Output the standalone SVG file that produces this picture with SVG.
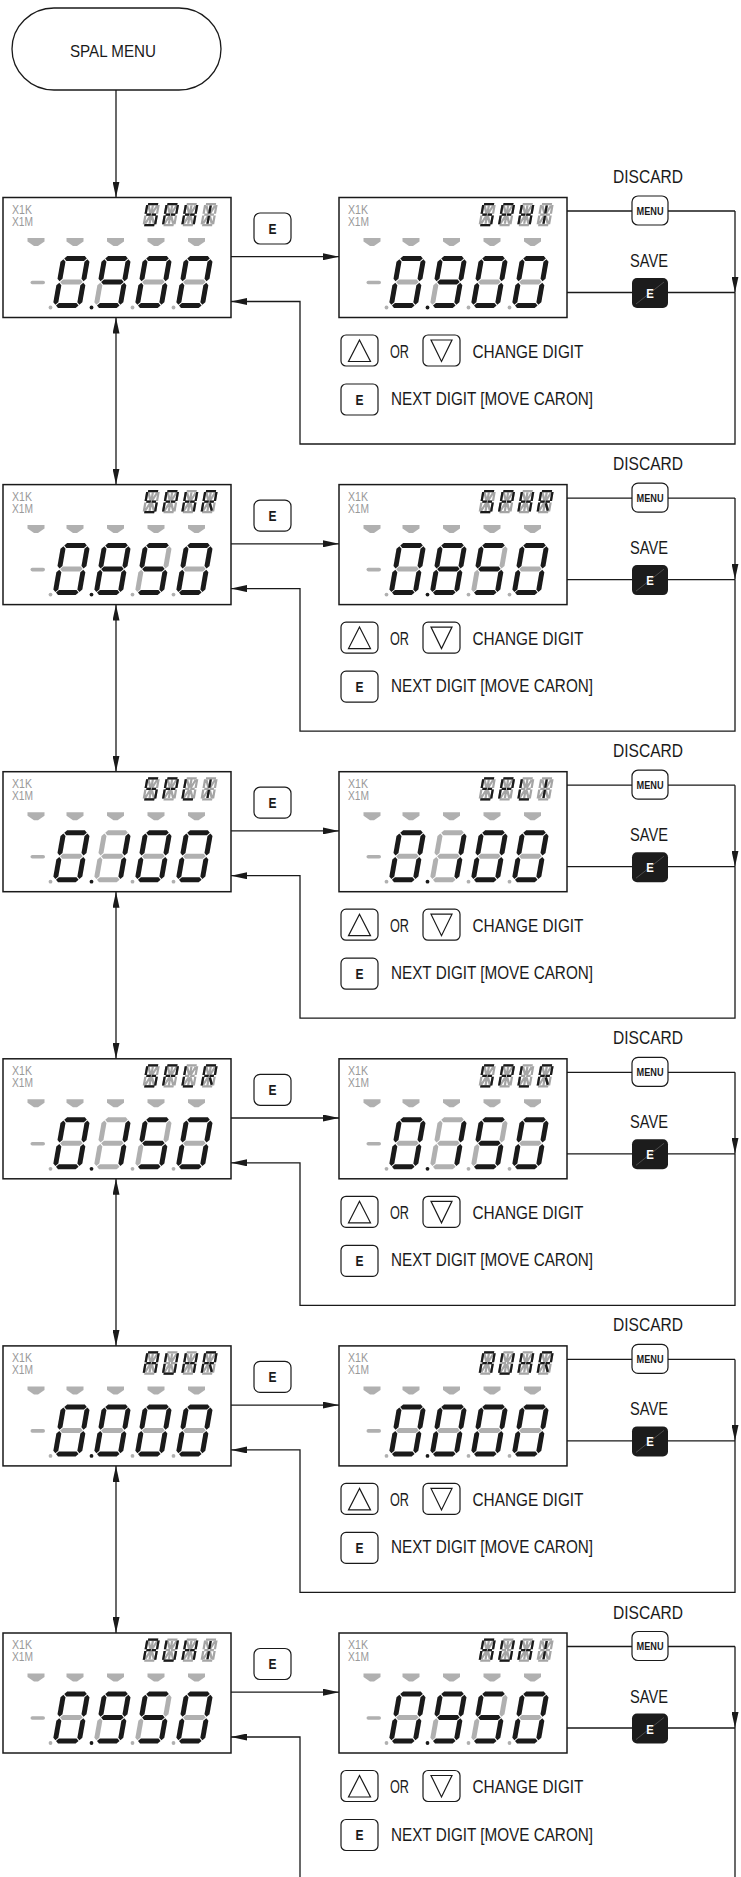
<svg xmlns="http://www.w3.org/2000/svg" width="741" height="1877" viewBox="0 0 741 1877">
<style>
.f{font-family:"Liberation Sans",Arial,sans-serif;fill:#1a1a1a}
.lb{font-size:18px}
.b{font-weight:bold}
.bt{fill:#fff;stroke:#1a1a1a;stroke-width:1.2}
.tri{fill:none;stroke:#1a1a1a;stroke-width:1.2;stroke-linejoin:miter}
.cn{fill:none;stroke:#1a1a1a;stroke-width:1.3}
.x{font-family:"Liberation Sans",Arial,sans-serif;font-size:12.5px;fill:#999}
.off{fill:#b0b0b0}
.on{fill:#1a1a1a}
.ag{fill:none;stroke:#a5a5a5;stroke-width:2.1}
.ao{fill:none;stroke:#1a1a1a;stroke-width:2.1}
</style>
<defs>
<marker id="ah" viewBox="0 0 16 7" refX="16" refY="3.5" markerWidth="16" markerHeight="7" markerUnits="userSpaceOnUse" orient="auto-start-reverse"><path d="M0,0L16,3.5L0,7z" fill="#1a1a1a"/></marker>
<polygon id="sa" points="3.2,2.5 5.7,0 23.3,0 25.8,2.5 23.3,5 5.7,5"/>
<polygon id="sg" points="3.2,26 5.7,23.5 23.3,23.5 25.8,26 23.3,28.5 5.7,28.5"/>
<polygon id="sd" points="3.2,49.5 5.7,47 23.3,47 25.8,49.5 23.3,52 5.7,52"/>
<polygon id="sf" points="2.5,3.2 5,5.7 5,22.8 2.5,25.3 0,22.8 0,5.7"/>
<polygon id="se" points="2.5,26.7 5,29.2 5,46.3 2.5,48.8 0,46.3 0,29.2"/>
<polygon id="sb" points="26.5,3.2 29,5.7 29,22.8 26.5,25.3 24,22.8 24,5.7"/>
<polygon id="sc" points="26.5,26.7 29,29.2 29,46.3 26.5,48.8 24,46.3 24,29.2"/>
<g id="d0"><use href="#sa" class="on"/><use href="#sb" class="on"/><use href="#sc" class="on"/><use href="#sd" class="on"/><use href="#se" class="on"/><use href="#sf" class="on"/><use href="#sg" class="off"/></g>
<g id="d1"><use href="#sa" class="off"/><use href="#sb" class="on"/><use href="#sc" class="on"/><use href="#sd" class="off"/><use href="#se" class="off"/><use href="#sf" class="off"/><use href="#sg" class="off"/></g>
<g id="d5"><use href="#sa" class="on"/><use href="#sb" class="off"/><use href="#sc" class="on"/><use href="#sd" class="on"/><use href="#se" class="off"/><use href="#sf" class="on"/><use href="#sg" class="on"/></g>
<g id="d8"><use href="#sa" class="on"/><use href="#sb" class="on"/><use href="#sc" class="on"/><use href="#sd" class="on"/><use href="#se" class="on"/><use href="#sf" class="on"/><use href="#sg" class="on"/></g>
<g id="d9"><use href="#sa" class="on"/><use href="#sb" class="on"/><use href="#sc" class="on"/><use href="#sd" class="on"/><use href="#se" class="off"/><use href="#sf" class="on"/><use href="#sg" class="on"/></g>
<path id="agp" d="M1.6,1H10.9M1.6,20.5H10.9M1,1.8V10M1,11.5V19.7M11.5,1.8V10M11.5,11.5V19.7M1.8,10.75H5.9M6.6,10.75H10.7M6.25,2.2V9.8M6.25,11.7V19.3M2.3,2.5L5.3,9.3M10.2,2.5L7.2,9.3M5.3,12.2L2.3,19M7.2,12.2L10.2,19"/>
<g id="aS"><use href="#agp" class="ag"/><path class="ao" d="M1.6,1H10.9M1,1.8V10M1.8,10.75H5.9M6.6,10.75H10.7M11.5,11.5V19.7M1.6,20.5H10.9"/></g>
<g id="aP"><use href="#agp" class="ag"/><path class="ao" d="M1.6,1H10.9M11.5,1.8V10M1,1.8V10M1,11.5V19.7M1.8,10.75H5.9M6.6,10.75H10.7"/></g>
<g id="aH"><use href="#agp" class="ag"/><path class="ao" d="M1,1.8V10M1,11.5V19.7M11.5,1.8V10M11.5,11.5V19.7M1.8,10.75H5.9M6.6,10.75H10.7"/></g>
<g id="aI"><use href="#agp" class="ag"/><path class="ao" d="M6.25,2.2V9.8M6.25,11.7V19.3"/></g>
<g id="aR"><use href="#agp" class="ag"/><path class="ao" d="M1.6,1H10.9M11.5,1.8V10M1,1.8V10M1,11.5V19.7M1.8,10.75H5.9M6.6,10.75H10.7M7.2,12.2L10.2,19"/></g>
<g id="aL"><use href="#agp" class="ag"/><path class="ao" d="M1,1.8V10M1,11.5V19.7M1.6,20.5H10.9"/></g>
<g id="aA"><use href="#agp" class="ag"/><path class="ao" d="M1.6,1H10.9M11.5,1.8V10M11.5,11.5V19.7M1,1.8V10M1,11.5V19.7M1.8,10.75H5.9M6.6,10.75H10.7"/></g>
<g id="aU"><use href="#agp" class="ag"/><path class="ao" d="M11.5,1.8V10M11.5,11.5V19.7M1.6,20.5H10.9M1,1.8V10M1,11.5V19.7"/></g>
<path id="cr" d="M-8.5,0H8.5V3.5L2,8H-2L-8.5,3.5Z"/>
<g id="lcd">
<rect x="0" y="0" width="228" height="120" fill="#fff" stroke="#1a1a1a" stroke-width="1.5"/>
<g class="off">
<use href="#cr" x="33" y="40.5"/><use href="#cr" x="72" y="40.5"/><use href="#cr" x="112.5" y="40.5"/><use href="#cr" x="153" y="40.5"/><use href="#cr" x="193.5" y="40.5"/>
<rect x="27.5" y="83.2" width="14.5" height="3.6" rx="1.8"/>
<circle cx="47.5" cy="110" r="1.9"/><circle cx="129.5" cy="110" r="1.9"/><circle cx="170.5" cy="110" r="1.9"/>
</g>
<circle class="on" cx="88.5" cy="110" r="1.9"/>
</g>
<g id="c1"><use href="#aS" transform="translate(143.5,5.5) skewX(-10) scale(1.08,1.08)"/><use href="#aP" transform="translate(162.8,5.5) skewX(-10) scale(1.08,1.08)"/><use href="#aH" transform="translate(182.1,5.5) skewX(-10) scale(1.08,1.08)"/><use href="#aI" transform="translate(201.4,5.5) skewX(-10) scale(1.08,1.08)"/><use href="#d0" transform="translate(58.5,58.5) skewX(-10)"/><use href="#d9" transform="translate(99.5,58.5) skewX(-10)"/><use href="#d0" transform="translate(140.5,58.5) skewX(-10)"/><use href="#d0" transform="translate(181.5,58.5) skewX(-10)"/></g>
<g id="c2"><use href="#aS" transform="translate(143.5,5.5) skewX(-10) scale(1.08,1.08)"/><use href="#aP" transform="translate(162.8,5.5) skewX(-10) scale(1.08,1.08)"/><use href="#aH" transform="translate(182.1,5.5) skewX(-10) scale(1.08,1.08)"/><use href="#aR" transform="translate(201.4,5.5) skewX(-10) scale(1.08,1.08)"/><use href="#d0" transform="translate(58.5,58.5) skewX(-10)"/><use href="#d8" transform="translate(99.5,58.5) skewX(-10)"/><use href="#d5" transform="translate(140.5,58.5) skewX(-10)"/><use href="#d0" transform="translate(181.5,58.5) skewX(-10)"/></g>
<g id="c3"><use href="#aS" transform="translate(143.5,5.5) skewX(-10) scale(1.08,1.08)"/><use href="#aP" transform="translate(162.8,5.5) skewX(-10) scale(1.08,1.08)"/><use href="#aL" transform="translate(182.1,5.5) skewX(-10) scale(1.08,1.08)"/><use href="#aI" transform="translate(201.4,5.5) skewX(-10) scale(1.08,1.08)"/><use href="#d0" transform="translate(58.5,58.5) skewX(-10)"/><use href="#d1" transform="translate(99.5,58.5) skewX(-10)"/><use href="#d0" transform="translate(140.5,58.5) skewX(-10)"/><use href="#d0" transform="translate(181.5,58.5) skewX(-10)"/></g>
<g id="c4"><use href="#aS" transform="translate(143.5,5.5) skewX(-10) scale(1.08,1.08)"/><use href="#aP" transform="translate(162.8,5.5) skewX(-10) scale(1.08,1.08)"/><use href="#aL" transform="translate(182.1,5.5) skewX(-10) scale(1.08,1.08)"/><use href="#aR" transform="translate(201.4,5.5) skewX(-10) scale(1.08,1.08)"/><use href="#d0" transform="translate(58.5,58.5) skewX(-10)"/><use href="#d1" transform="translate(99.5,58.5) skewX(-10)"/><use href="#d5" transform="translate(140.5,58.5) skewX(-10)"/><use href="#d0" transform="translate(181.5,58.5) skewX(-10)"/></g>
<g id="c5"><use href="#aA" transform="translate(143.5,5.5) skewX(-10) scale(1.08,1.08)"/><use href="#aU" transform="translate(162.8,5.5) skewX(-10) scale(1.08,1.08)"/><use href="#aH" transform="translate(182.1,5.5) skewX(-10) scale(1.08,1.08)"/><use href="#aR" transform="translate(201.4,5.5) skewX(-10) scale(1.08,1.08)"/><use href="#d0" transform="translate(58.5,58.5) skewX(-10)"/><use href="#d0" transform="translate(99.5,58.5) skewX(-10)"/><use href="#d0" transform="translate(140.5,58.5) skewX(-10)"/><use href="#d0" transform="translate(181.5,58.5) skewX(-10)"/></g>
<g id="c6"><use href="#aA" transform="translate(143.5,5.5) skewX(-10) scale(1.08,1.08)"/><use href="#aU" transform="translate(162.8,5.5) skewX(-10) scale(1.08,1.08)"/><use href="#aH" transform="translate(182.1,5.5) skewX(-10) scale(1.08,1.08)"/><use href="#aI" transform="translate(201.4,5.5) skewX(-10) scale(1.08,1.08)"/><use href="#d0" transform="translate(58.5,58.5) skewX(-10)"/><use href="#d9" transform="translate(99.5,58.5) skewX(-10)"/><use href="#d5" transform="translate(140.5,58.5) skewX(-10)"/><use href="#d0" transform="translate(181.5,58.5) skewX(-10)"/></g>
</defs>
<rect width="741" height="1877" fill="#fff"/>

<g id="connectors" class="cn">
<path d="M116,90V197.5" marker-end="url(#ah)"/>
<path d="M116,317.5V484.6" marker-start="url(#ah)" marker-end="url(#ah)"/>
<path d="M116,604.6V771.7" marker-start="url(#ah)" marker-end="url(#ah)"/>
<path d="M116,891.7V1058.8" marker-start="url(#ah)" marker-end="url(#ah)"/>
<path d="M116,1178.8V1345.9" marker-start="url(#ah)" marker-end="url(#ah)"/>
<path d="M116,1465.9V1633" marker-start="url(#ah)" marker-end="url(#ah)"/>
<g>
<path d="M231,256.7H339" marker-end="url(#ah)"/>
<path d="M567,211H632M668,211H735"/><path d="M735,211V292.5" marker-end="url(#ah)"/>
<path d="M567,292.5H632M668,292.5H735"/>
<path d="M735,292.5V444H300V301.5H231" marker-end="url(#ah)"/>
</g>
<g transform="translate(0,287.1)">
<path d="M231,256.7H339" marker-end="url(#ah)"/>
<path d="M567,211H632M668,211H735"/><path d="M735,211V292.5" marker-end="url(#ah)"/>
<path d="M567,292.5H632M668,292.5H735"/>
<path d="M735,292.5V444H300V301.5H231" marker-end="url(#ah)"/>
</g>
<g transform="translate(0,574.2)">
<path d="M231,256.7H339" marker-end="url(#ah)"/>
<path d="M567,211H632M668,211H735"/><path d="M735,211V292.5" marker-end="url(#ah)"/>
<path d="M567,292.5H632M668,292.5H735"/>
<path d="M735,292.5V444H300V301.5H231" marker-end="url(#ah)"/>
</g>
<g transform="translate(0,861.3)">
<path d="M231,256.7H339" marker-end="url(#ah)"/>
<path d="M567,211H632M668,211H735"/><path d="M735,211V292.5" marker-end="url(#ah)"/>
<path d="M567,292.5H632M668,292.5H735"/>
<path d="M735,292.5V444H300V301.5H231" marker-end="url(#ah)"/>
</g>
<g transform="translate(0,1148.4)">
<path d="M231,256.7H339" marker-end="url(#ah)"/>
<path d="M567,211H632M668,211H735"/><path d="M735,211V292.5" marker-end="url(#ah)"/>
<path d="M567,292.5H632M668,292.5H735"/>
<path d="M735,292.5V444H300V301.5H231" marker-end="url(#ah)"/>
</g>
<g transform="translate(0,1435.5)">
<path d="M231,256.7H339" marker-end="url(#ah)"/>
<path d="M567,211H632M668,211H735"/><path d="M735,211V292.5" marker-end="url(#ah)"/>
<path d="M567,292.5H632M668,292.5H735"/>
<path d="M735,292.5V442"/>
<path d="M300,442V301.5H231" marker-end="url(#ah)"/>
</g>
</g>

<g id="spal-menu"><rect x="12" y="8" width="209" height="82" rx="42" ry="41" fill="#fff" stroke="#1a1a1a" stroke-width="1.3"/><text class="f" x="70" y="56.5" font-size="16.5" textLength="86" lengthAdjust="spacingAndGlyphs">SPAL MENU</text></g>

<g id="lcd1-left" transform="translate(3,197.5)"><use href="#lcd"/><use href="#c1"/><text class="x" x="9" y="16" textLength="20" lengthAdjust="spacingAndGlyphs">X1K</text><text class="x" x="9" y="28" textLength="21" lengthAdjust="spacingAndGlyphs">X1M</text></g>
<g id="lcd1-right" transform="translate(339,197.5)"><use href="#lcd"/><use href="#c1"/><text class="x" x="9" y="16" textLength="20" lengthAdjust="spacingAndGlyphs">X1K</text><text class="x" x="9" y="28" textLength="21" lengthAdjust="spacingAndGlyphs">X1M</text></g>
<g id="lcd2-left" transform="translate(3,484.6)"><use href="#lcd"/><use href="#c2"/><text class="x" x="9" y="16" textLength="20" lengthAdjust="spacingAndGlyphs">X1K</text><text class="x" x="9" y="28" textLength="21" lengthAdjust="spacingAndGlyphs">X1M</text></g>
<g id="lcd2-right" transform="translate(339,484.6)"><use href="#lcd"/><use href="#c2"/><text class="x" x="9" y="16" textLength="20" lengthAdjust="spacingAndGlyphs">X1K</text><text class="x" x="9" y="28" textLength="21" lengthAdjust="spacingAndGlyphs">X1M</text></g>
<g id="lcd3-left" transform="translate(3,771.7)"><use href="#lcd"/><use href="#c3"/><text class="x" x="9" y="16" textLength="20" lengthAdjust="spacingAndGlyphs">X1K</text><text class="x" x="9" y="28" textLength="21" lengthAdjust="spacingAndGlyphs">X1M</text></g>
<g id="lcd3-right" transform="translate(339,771.7)"><use href="#lcd"/><use href="#c3"/><text class="x" x="9" y="16" textLength="20" lengthAdjust="spacingAndGlyphs">X1K</text><text class="x" x="9" y="28" textLength="21" lengthAdjust="spacingAndGlyphs">X1M</text></g>
<g id="lcd4-left" transform="translate(3,1058.8)"><use href="#lcd"/><use href="#c4"/><text class="x" x="9" y="16" textLength="20" lengthAdjust="spacingAndGlyphs">X1K</text><text class="x" x="9" y="28" textLength="21" lengthAdjust="spacingAndGlyphs">X1M</text></g>
<g id="lcd4-right" transform="translate(339,1058.8)"><use href="#lcd"/><use href="#c4"/><text class="x" x="9" y="16" textLength="20" lengthAdjust="spacingAndGlyphs">X1K</text><text class="x" x="9" y="28" textLength="21" lengthAdjust="spacingAndGlyphs">X1M</text></g>
<g id="lcd5-left" transform="translate(3,1345.9)"><use href="#lcd"/><use href="#c5"/><text class="x" x="9" y="16" textLength="20" lengthAdjust="spacingAndGlyphs">X1K</text><text class="x" x="9" y="28" textLength="21" lengthAdjust="spacingAndGlyphs">X1M</text></g>
<g id="lcd5-right" transform="translate(339,1345.9)"><use href="#lcd"/><use href="#c5"/><text class="x" x="9" y="16" textLength="20" lengthAdjust="spacingAndGlyphs">X1K</text><text class="x" x="9" y="28" textLength="21" lengthAdjust="spacingAndGlyphs">X1M</text></g>
<g id="lcd6-left" transform="translate(3,1633)"><use href="#lcd"/><use href="#c6"/><text class="x" x="9" y="16" textLength="20" lengthAdjust="spacingAndGlyphs">X1K</text><text class="x" x="9" y="28" textLength="21" lengthAdjust="spacingAndGlyphs">X1M</text></g>
<g id="lcd6-right" transform="translate(339,1633)"><use href="#lcd"/><use href="#c6"/><text class="x" x="9" y="16" textLength="20" lengthAdjust="spacingAndGlyphs">X1K</text><text class="x" x="9" y="28" textLength="21" lengthAdjust="spacingAndGlyphs">X1M</text></g>

<g id="row1-controls">
<g id="e-btn-1"><rect class="bt" x="254" y="213" width="37" height="31" rx="6"/><text class="f b" x="268.5" y="233.8" font-size="14.5" textLength="8" lengthAdjust="spacingAndGlyphs">E</text></g>
<g id="discard-1"><text class="f lb" x="613" y="183" textLength="70" lengthAdjust="spacingAndGlyphs">DISCARD</text><rect class="bt" x="632" y="196" width="36" height="29" rx="6"/><text class="f b" x="636.5" y="214.5" font-size="11" textLength="27" lengthAdjust="spacingAndGlyphs">MENU</text></g>
<g id="save-1"><text class="f lb" x="630" y="267" textLength="38" lengthAdjust="spacingAndGlyphs">SAVE</text><rect x="632" y="278" width="36" height="30" rx="5" fill="#1c1c1c"/><line x1="636" y1="304" x2="664" y2="282" stroke="#6a6a6a" stroke-width="0.6"/><text class="b" x="646.2" y="298" font-family="Liberation Sans,Arial,sans-serif" font-size="13.5" fill="#fff" textLength="7.6" lengthAdjust="spacingAndGlyphs">E</text></g>
<g id="change-1"><rect class="bt" x="341" y="335" width="37" height="31" rx="5"/><polygon class="tri" points="359.5,340 348.5,361.5 370.5,361.5"/><text class="f lb" x="390" y="357.5" textLength="19" lengthAdjust="spacingAndGlyphs">OR</text><rect class="bt" x="423" y="335" width="37" height="31" rx="5"/><polygon class="tri" points="431,340 452,340 441.5,361.5"/><text class="f lb" x="472.5" y="357.5" textLength="111" lengthAdjust="spacingAndGlyphs">CHANGE DIGIT</text></g>
<g id="next-1"><rect class="bt" x="341" y="384" width="37" height="31" rx="5"/><text class="f b" x="355.5" y="404.8" font-size="14.5" textLength="8" lengthAdjust="spacingAndGlyphs">E</text><text class="f lb" x="391" y="405" textLength="202" lengthAdjust="spacingAndGlyphs">NEXT DIGIT [MOVE CARON]</text></g>
</g>
<g id="row2-controls" transform="translate(0,287.1)">
<g id="e-btn-2"><rect class="bt" x="254" y="213" width="37" height="31" rx="6"/><text class="f b" x="268.5" y="233.8" font-size="14.5" textLength="8" lengthAdjust="spacingAndGlyphs">E</text></g>
<g id="discard-2"><text class="f lb" x="613" y="183" textLength="70" lengthAdjust="spacingAndGlyphs">DISCARD</text><rect class="bt" x="632" y="196" width="36" height="29" rx="6"/><text class="f b" x="636.5" y="214.5" font-size="11" textLength="27" lengthAdjust="spacingAndGlyphs">MENU</text></g>
<g id="save-2"><text class="f lb" x="630" y="267" textLength="38" lengthAdjust="spacingAndGlyphs">SAVE</text><rect x="632" y="278" width="36" height="30" rx="5" fill="#1c1c1c"/><line x1="636" y1="304" x2="664" y2="282" stroke="#6a6a6a" stroke-width="0.6"/><text class="b" x="646.2" y="298" font-family="Liberation Sans,Arial,sans-serif" font-size="13.5" fill="#fff" textLength="7.6" lengthAdjust="spacingAndGlyphs">E</text></g>
<g id="change-2"><rect class="bt" x="341" y="335" width="37" height="31" rx="5"/><polygon class="tri" points="359.5,340 348.5,361.5 370.5,361.5"/><text class="f lb" x="390" y="357.5" textLength="19" lengthAdjust="spacingAndGlyphs">OR</text><rect class="bt" x="423" y="335" width="37" height="31" rx="5"/><polygon class="tri" points="431,340 452,340 441.5,361.5"/><text class="f lb" x="472.5" y="357.5" textLength="111" lengthAdjust="spacingAndGlyphs">CHANGE DIGIT</text></g>
<g id="next-2"><rect class="bt" x="341" y="384" width="37" height="31" rx="5"/><text class="f b" x="355.5" y="404.8" font-size="14.5" textLength="8" lengthAdjust="spacingAndGlyphs">E</text><text class="f lb" x="391" y="405" textLength="202" lengthAdjust="spacingAndGlyphs">NEXT DIGIT [MOVE CARON]</text></g>
</g>
<g id="row3-controls" transform="translate(0,574.2)">
<g id="e-btn-3"><rect class="bt" x="254" y="213" width="37" height="31" rx="6"/><text class="f b" x="268.5" y="233.8" font-size="14.5" textLength="8" lengthAdjust="spacingAndGlyphs">E</text></g>
<g id="discard-3"><text class="f lb" x="613" y="183" textLength="70" lengthAdjust="spacingAndGlyphs">DISCARD</text><rect class="bt" x="632" y="196" width="36" height="29" rx="6"/><text class="f b" x="636.5" y="214.5" font-size="11" textLength="27" lengthAdjust="spacingAndGlyphs">MENU</text></g>
<g id="save-3"><text class="f lb" x="630" y="267" textLength="38" lengthAdjust="spacingAndGlyphs">SAVE</text><rect x="632" y="278" width="36" height="30" rx="5" fill="#1c1c1c"/><line x1="636" y1="304" x2="664" y2="282" stroke="#6a6a6a" stroke-width="0.6"/><text class="b" x="646.2" y="298" font-family="Liberation Sans,Arial,sans-serif" font-size="13.5" fill="#fff" textLength="7.6" lengthAdjust="spacingAndGlyphs">E</text></g>
<g id="change-3"><rect class="bt" x="341" y="335" width="37" height="31" rx="5"/><polygon class="tri" points="359.5,340 348.5,361.5 370.5,361.5"/><text class="f lb" x="390" y="357.5" textLength="19" lengthAdjust="spacingAndGlyphs">OR</text><rect class="bt" x="423" y="335" width="37" height="31" rx="5"/><polygon class="tri" points="431,340 452,340 441.5,361.5"/><text class="f lb" x="472.5" y="357.5" textLength="111" lengthAdjust="spacingAndGlyphs">CHANGE DIGIT</text></g>
<g id="next-3"><rect class="bt" x="341" y="384" width="37" height="31" rx="5"/><text class="f b" x="355.5" y="404.8" font-size="14.5" textLength="8" lengthAdjust="spacingAndGlyphs">E</text><text class="f lb" x="391" y="405" textLength="202" lengthAdjust="spacingAndGlyphs">NEXT DIGIT [MOVE CARON]</text></g>
</g>
<g id="row4-controls" transform="translate(0,861.3)">
<g id="e-btn-4"><rect class="bt" x="254" y="213" width="37" height="31" rx="6"/><text class="f b" x="268.5" y="233.8" font-size="14.5" textLength="8" lengthAdjust="spacingAndGlyphs">E</text></g>
<g id="discard-4"><text class="f lb" x="613" y="183" textLength="70" lengthAdjust="spacingAndGlyphs">DISCARD</text><rect class="bt" x="632" y="196" width="36" height="29" rx="6"/><text class="f b" x="636.5" y="214.5" font-size="11" textLength="27" lengthAdjust="spacingAndGlyphs">MENU</text></g>
<g id="save-4"><text class="f lb" x="630" y="267" textLength="38" lengthAdjust="spacingAndGlyphs">SAVE</text><rect x="632" y="278" width="36" height="30" rx="5" fill="#1c1c1c"/><line x1="636" y1="304" x2="664" y2="282" stroke="#6a6a6a" stroke-width="0.6"/><text class="b" x="646.2" y="298" font-family="Liberation Sans,Arial,sans-serif" font-size="13.5" fill="#fff" textLength="7.6" lengthAdjust="spacingAndGlyphs">E</text></g>
<g id="change-4"><rect class="bt" x="341" y="335" width="37" height="31" rx="5"/><polygon class="tri" points="359.5,340 348.5,361.5 370.5,361.5"/><text class="f lb" x="390" y="357.5" textLength="19" lengthAdjust="spacingAndGlyphs">OR</text><rect class="bt" x="423" y="335" width="37" height="31" rx="5"/><polygon class="tri" points="431,340 452,340 441.5,361.5"/><text class="f lb" x="472.5" y="357.5" textLength="111" lengthAdjust="spacingAndGlyphs">CHANGE DIGIT</text></g>
<g id="next-4"><rect class="bt" x="341" y="384" width="37" height="31" rx="5"/><text class="f b" x="355.5" y="404.8" font-size="14.5" textLength="8" lengthAdjust="spacingAndGlyphs">E</text><text class="f lb" x="391" y="405" textLength="202" lengthAdjust="spacingAndGlyphs">NEXT DIGIT [MOVE CARON]</text></g>
</g>
<g id="row5-controls" transform="translate(0,1148.4)">
<g id="e-btn-5"><rect class="bt" x="254" y="213" width="37" height="31" rx="6"/><text class="f b" x="268.5" y="233.8" font-size="14.5" textLength="8" lengthAdjust="spacingAndGlyphs">E</text></g>
<g id="discard-5"><text class="f lb" x="613" y="183" textLength="70" lengthAdjust="spacingAndGlyphs">DISCARD</text><rect class="bt" x="632" y="196" width="36" height="29" rx="6"/><text class="f b" x="636.5" y="214.5" font-size="11" textLength="27" lengthAdjust="spacingAndGlyphs">MENU</text></g>
<g id="save-5"><text class="f lb" x="630" y="267" textLength="38" lengthAdjust="spacingAndGlyphs">SAVE</text><rect x="632" y="278" width="36" height="30" rx="5" fill="#1c1c1c"/><line x1="636" y1="304" x2="664" y2="282" stroke="#6a6a6a" stroke-width="0.6"/><text class="b" x="646.2" y="298" font-family="Liberation Sans,Arial,sans-serif" font-size="13.5" fill="#fff" textLength="7.6" lengthAdjust="spacingAndGlyphs">E</text></g>
<g id="change-5"><rect class="bt" x="341" y="335" width="37" height="31" rx="5"/><polygon class="tri" points="359.5,340 348.5,361.5 370.5,361.5"/><text class="f lb" x="390" y="357.5" textLength="19" lengthAdjust="spacingAndGlyphs">OR</text><rect class="bt" x="423" y="335" width="37" height="31" rx="5"/><polygon class="tri" points="431,340 452,340 441.5,361.5"/><text class="f lb" x="472.5" y="357.5" textLength="111" lengthAdjust="spacingAndGlyphs">CHANGE DIGIT</text></g>
<g id="next-5"><rect class="bt" x="341" y="384" width="37" height="31" rx="5"/><text class="f b" x="355.5" y="404.8" font-size="14.5" textLength="8" lengthAdjust="spacingAndGlyphs">E</text><text class="f lb" x="391" y="405" textLength="202" lengthAdjust="spacingAndGlyphs">NEXT DIGIT [MOVE CARON]</text></g>
</g>
<g id="row6-controls" transform="translate(0,1435.5)">
<g id="e-btn-6"><rect class="bt" x="254" y="213" width="37" height="31" rx="6"/><text class="f b" x="268.5" y="233.8" font-size="14.5" textLength="8" lengthAdjust="spacingAndGlyphs">E</text></g>
<g id="discard-6"><text class="f lb" x="613" y="183" textLength="70" lengthAdjust="spacingAndGlyphs">DISCARD</text><rect class="bt" x="632" y="196" width="36" height="29" rx="6"/><text class="f b" x="636.5" y="214.5" font-size="11" textLength="27" lengthAdjust="spacingAndGlyphs">MENU</text></g>
<g id="save-6"><text class="f lb" x="630" y="267" textLength="38" lengthAdjust="spacingAndGlyphs">SAVE</text><rect x="632" y="278" width="36" height="30" rx="5" fill="#1c1c1c"/><line x1="636" y1="304" x2="664" y2="282" stroke="#6a6a6a" stroke-width="0.6"/><text class="b" x="646.2" y="298" font-family="Liberation Sans,Arial,sans-serif" font-size="13.5" fill="#fff" textLength="7.6" lengthAdjust="spacingAndGlyphs">E</text></g>
<g id="change-6"><rect class="bt" x="341" y="335" width="37" height="31" rx="5"/><polygon class="tri" points="359.5,340 348.5,361.5 370.5,361.5"/><text class="f lb" x="390" y="357.5" textLength="19" lengthAdjust="spacingAndGlyphs">OR</text><rect class="bt" x="423" y="335" width="37" height="31" rx="5"/><polygon class="tri" points="431,340 452,340 441.5,361.5"/><text class="f lb" x="472.5" y="357.5" textLength="111" lengthAdjust="spacingAndGlyphs">CHANGE DIGIT</text></g>
<g id="next-6"><rect class="bt" x="341" y="384" width="37" height="31" rx="5"/><text class="f b" x="355.5" y="404.8" font-size="14.5" textLength="8" lengthAdjust="spacingAndGlyphs">E</text><text class="f lb" x="391" y="405" textLength="202" lengthAdjust="spacingAndGlyphs">NEXT DIGIT [MOVE CARON]</text></g>
</g>
</svg>
